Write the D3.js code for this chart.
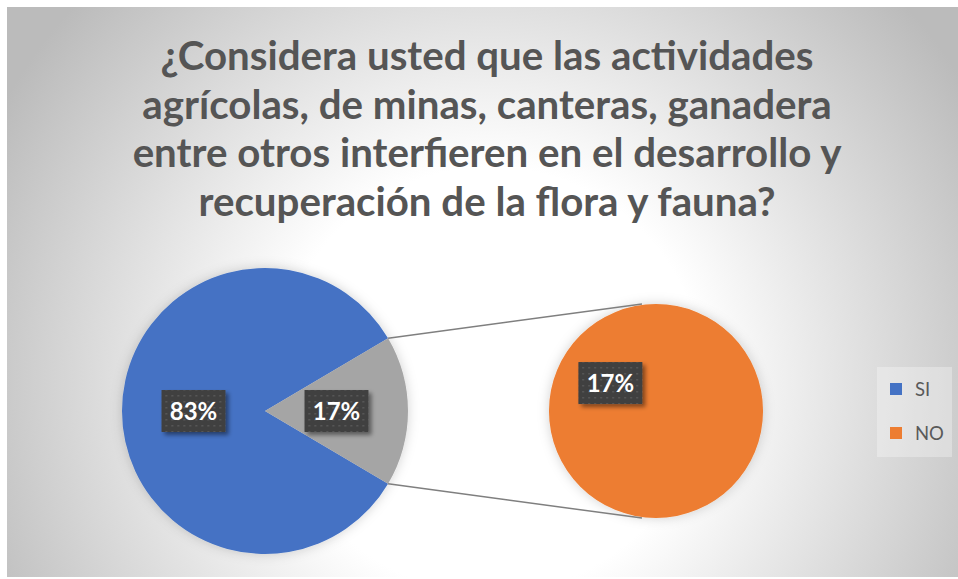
<!DOCTYPE html>
<html>
<head>
<meta charset="utf-8">
<script src="https://cdn.jsdelivr.net/npm/d3@7"></script>
<style>
  body { margin: 0; background: #fff; }
  svg { display: block; }
</style>
</head>
<body>
<svg id="chart" width="958" height="579"></svg>
<script>
// data
const titleLines = [
  "¿Considera usted que las actividades",
  "agrícolas, de minas, canteras, ganadera",
  "entre otros interfieren en el desarrollo y",
  "recuperación de la flora y fauna?"
];
const categories = ["SI", "NO"];
const values = [83, 17];
const seriesColors = ["#4472C4", "#ED7D31"];
const otherColor = "#A5A5A5";
// the last N points go to the second pie
const splitCount = 1;

const width = 958, height = 579;
const svg = d3.select("#chart");
const defs = svg.append("defs");

// background: radial gradient like excel
const bg = defs.append("radialGradient")
  .attr("id", "bgGrad")
  .attr("gradientUnits", "userSpaceOnUse")
  .attr("cx", 490).attr("cy", 380).attr("r", 560);
bg.append("stop").attr("offset", "0%").attr("stop-color", "#ffffff");
bg.append("stop").attr("offset", "38%").attr("stop-color", "#ffffff");
bg.append("stop").attr("offset", "100%").attr("stop-color", "#bbbbbb");

const dots = defs.append("pattern")
  .attr("id", "dots")
  .attr("patternUnits", "userSpaceOnUse")
  .attr("width", 6).attr("height", 6);
dots.append("rect").attr("width", 6).attr("height", 6).attr("fill", "#404040");
dots.append("rect").attr("x", 2).attr("y", 2).attr("width", 1.5).attr("height", 1.5).attr("fill", "#5e5e5e");

const boxShadow = defs.append("filter").attr("id", "boxShadow")
  .attr("x", "-20%").attr("y", "-20%").attr("width", "150%").attr("height", "160%");
boxShadow.append("feDropShadow").attr("dx", 3).attr("dy", 3).attr("stdDeviation", 2)
  .attr("flood-color", "#000").attr("flood-opacity", 0.45);

const pieShadow = defs.append("filter").attr("id", "pieShadow")
  .attr("x", "-20%").attr("y", "-20%").attr("width", "140%").attr("height", "140%");
pieShadow.append("feDropShadow").attr("dx", 0).attr("dy", 0).attr("stdDeviation", 6)
  .attr("flood-color", "#000").attr("flood-opacity", 0.18);

svg.append("rect")
  .attr("x", 7).attr("y", 7)
  .attr("width", width - 7).attr("height", height - 9)
  .attr("fill", "url(#bgGrad)");

// title
const title = svg.append("g").attr("class", "title");
const titleText = title.selectAll("text")
  .data(titleLines)
  .join("text")
  .attr("x", 487)
  .attr("y", (d, i) => 70 + i * 48.5)
  .attr("text-anchor", "middle")
  .attr("font-family", "Lato, 'Open Sans', sans-serif")
  .attr("font-weight", "bold")
  .attr("font-size", 34)
  .attr("fill", "#555555")
  .text(d => d);
// fit widest line to ~709px
let widest = 0;
titleText.each(function() { widest = Math.max(widest, this.getComputedTextLength()); });
titleText.attr("font-size", 34 * 709 / widest);

// pie of pie
const total = d3.sum(values);
const mainVals = values.slice(0, values.length - splitCount);
const splitVals = values.slice(values.length - splitCount);
const otherVal = d3.sum(splitVals);

const mainData = mainVals.map((v, i) => ({ name: categories[i], value: v, color: seriesColors[i] }));
mainData.push({ name: "Otro", value: otherVal, color: otherColor });

const R1 = 143, c1 = [265, 411];
const R2 = 107, c2 = [656, 411];

// the "other" slice is centred at 3 o'clock
const otherSpan = otherVal / total * 2 * Math.PI;
const startA = Math.PI / 2 + otherSpan / 2;
const pie1 = d3.pie().sort(null).value(d => d.value)
  .startAngle(startA).endAngle(startA + 2 * Math.PI);
const arcs1 = pie1(mainData);

const arc1 = d3.arc().innerRadius(0).outerRadius(R1);

const g1 = svg.append("g").attr("transform", `translate(${c1})`);
g1.append("g").attr("filter", "url(#pieShadow)")
  .selectAll("path")
  .data(arcs1)
  .join("path")
  .attr("d", arc1)
  .attr("fill", d => d.data.color);

const splitData = splitVals.map((v, i) => ({
  name: categories[mainVals.length + i], value: v, color: seriesColors[mainVals.length + i]
}));
const pie2 = d3.pie().sort(null).value(d => d.value);
const arcs2 = pie2(splitData);
const arc2 = d3.arc().innerRadius(0).outerRadius(R2);

const g2 = svg.append("g").attr("transform", `translate(${c2})`);
g2.append("g").attr("filter", "url(#pieShadow)")
  .selectAll("path")
  .data(arcs2)
  .join("path")
  .attr("d", arc2)
  .attr("fill", d => d.data.color);

// connector lines from edge of "other" slice to second pie
const otherArc = arcs1[arcs1.length - 1];
const edgePt = (a, r, c) => [c[0] + r * Math.sin(a), c[1] - r * Math.cos(a)];
const topStart = edgePt(otherArc.startAngle, R1, c1);
const botStart = edgePt(otherArc.endAngle, R1, c1);
const topEnd = edgePt(-0.13, R2 + 1, c2);
const botEnd = edgePt(Math.PI + 0.13, R2 + 1, c2);
svg.append("g").selectAll("line")
  .data([[topStart, topEnd], [botStart, botEnd]])
  .join("line")
  .attr("x1", d => d[0][0]).attr("y1", d => d[0][1])
  .attr("x2", d => d[1][0]).attr("y2", d => d[1][1])
  .attr("stroke", "#7f7f7f")
  .attr("stroke-width", 1.5);

// data labels
const fmt = v => Math.round(v / total * 100) + "%";
function addLabel(g, pos, txt) {
  const lg = g.append("g").attr("transform", `translate(${pos})`);
  lg.append("rect")
    .attr("x", -32).attr("y", -21)
    .attr("width", 64).attr("height", 42)
    .attr("fill", "url(#dots)")
    .attr("filter", "url(#boxShadow)");
  lg.append("text")
    .attr("text-anchor", "middle")
    .attr("dy", "0.36em")
    .attr("font-family", "Lato, 'Open Sans', sans-serif")
    .attr("font-weight", "bold")
    .attr("font-size", 24)
    .attr("fill", "#ffffff")
    .text(txt);
}
arcs1.forEach(a => addLabel(g1, arc1.centroid(a), fmt(a.value)));
// single full slice: excel puts the label up-left of centre
const labelArc2 = d3.arc().innerRadius(0).outerRadius(R2);
arcs2.forEach(a => {
  const p = a.endAngle - a.startAngle >= 2 * Math.PI - 1e-6
    ? labelArc2.centroid({ startAngle: 1.55 * Math.PI, endAngle: 1.8 * Math.PI })
    : arc2.centroid(a);
  addLabel(g2, p, fmt(a.value));
});

// legend
const legend = svg.append("g").attr("transform", "translate(877,367)");
legend.append("rect")
  .attr("width", 75).attr("height", 90)
  .attr("fill", "#ffffff").attr("fill-opacity", 0.3);
const items = legend.selectAll("g.item")
  .data(categories)
  .join("g")
  .attr("class", "item")
  .attr("transform", (d, i) => `translate(13,${16 + i * 44})`);
items.append("rect")
  .attr("width", 12).attr("height", 12)
  .attr("fill", (d, i) => seriesColors[i]);
items.append("text")
  .attr("x", 25).attr("y", 6)
  .attr("dy", "0.36em")
  .attr("font-family", "Lato, 'Open Sans', sans-serif")
  .attr("font-size", 18.5)
  .attr("fill", "#595959")
  .text(d => d);
</script>
</body>
</html>
